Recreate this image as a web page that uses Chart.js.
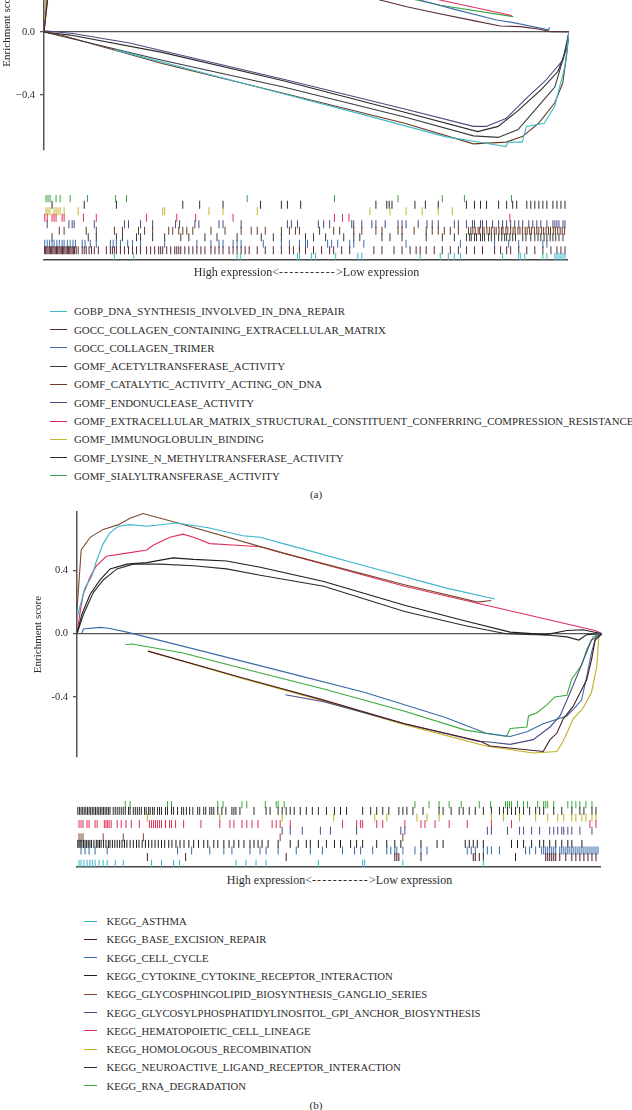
<!DOCTYPE html>
<html>
<head>
<meta charset="utf-8">
<script src="https://cdn.jsdelivr.net/npm/chart.js@4.4.1/dist/chart.umd.min.js"></script>
<style>
  html, body { margin: 0; padding: 0; background: #fff; }
  body { width: 632px; height: 1110px; overflow: hidden; position: relative;
         font-family: "Liberation Serif", "DejaVu Serif", serif; color: #2b2b2b; }
  canvas { position: absolute; }
  .row { position: absolute; height: 14px; line-height: 14px; white-space: nowrap; }
  .swatch { position: absolute; height: 1.6px; }
  .caption { position: absolute; white-space: nowrap; transform: translate(-50%, -50%); }
  .dash { letter-spacing: 1.2px; }
</style>
</head>
<body>
<canvas id="curvesA" width="572" height="250" style="left:0;top:-97px"></canvas>
<canvas id="rugA" width="572" height="75" style="left:0;top:190px"></canvas>
<div class="caption" style="left:306.5px;top:272px;font-size:12px">High expression&lt;<span class="dash">-----------</span>&gt;Low expression</div>
<div id="legendA"></div>
<div class="caption" style="left:316px;top:494px;font-size:11px">(a)</div>

<canvas id="curvesB" width="605" height="251" style="left:0;top:509px"></canvas>
<canvas id="rugB" width="605" height="76" style="left:0;top:796px"></canvas>
<div class="caption" style="left:339.5px;top:880px;font-size:12px">High expression&lt;<span class="dash">-----------</span>&gt;Low expression</div>
<div id="legendB"></div>
<div class="caption" style="left:316px;top:1105px;font-size:11px">(b)</div>

<script>
// y axis ticks
const yTickValues = [-0.4, 0, 0.4];
const yTickLabelsA = ["\u22120.4", "0.0", "0.4"];
const yTickLabelsB = ["-0.4", "0.0", "0.4"];

// ---------- panel (a): GO gene sets ----------
const goNames = [
  "GOBP_DNA_SYNTHESIS_INVOLVED_IN_DNA_REPAIR",
  "GOCC_COLLAGEN_CONTAINING_EXTRACELLULAR_MATRIX",
  "GOCC_COLLAGEN_TRIMER",
  "GOMF_ACETYLTRANSFERASE_ACTIVITY",
  "GOMF_CATALYTIC_ACTIVITY_ACTING_ON_DNA",
  "GOMF_ENDONUCLEASE_ACTIVITY",
  "GOMF_EXTRACELLULAR_MATRIX_STRUCTURAL_CONSTITUENT_CONFERRING_COMPRESSION_RESISTANCE",
  "GOMF_IMMUNOGLOBULIN_BINDING",
  "GOMF_LYSINE_N_METHYLTRANSFERASE_ACTIVITY",
  "GOMF_SIALYLTRANSFERASE_ACTIVITY"
];
const goColors = ["#3fb8c8", "#5a2a32", "#3f6fa8", "#3a3a3a", "#6b3a22",
                  "#4a4a80", "#e0305a", "#c0b830", "#2a2a2a", "#3aa040"];

// running enrichment score, [position % of ranked list, ES]
const goCurves = [
  [[13.6,-0.114],[37.9,-0.326],[61,-0.527],[76.4,-0.665],[84.2,-0.707],[88,-0.728],[88.4,-0.70],[91.1,-0.70],[91.9,-0.60],[95.3,-0.58],[97.3,-0.47],[99.2,-0.22],[100,0]],
  [[0,0],[1,0.3],[3,0.5],[8,0.62],[15,0.68],[25,0.62],[40,0.48],[55,0.32],[64,0.203],[69.1,0.16],[74.2,0.123],[81.8,0.072],[86.9,0.038],[90.7,0.034],[94.5,0.017],[96.4,0.002],[100,0]],
  [[0,0],[1,0.35],[4,0.55],[10,0.62],[20,0.6],[35,0.48],[50,0.38],[60,0.3],[71.6,0.203],[78.6,0.14],[86.2,0.076],[89.4,0.059],[96.1,0.013],[96.3,0.03]],
  [[0,0],[22.5,-0.18],[45.6,-0.35],[68.7,-0.54],[81.8,-0.66],[86.5,-0.67],[90.3,-0.62],[94.2,-0.47],[97.3,-0.35],[99.2,-0.135],[100,0]],
  [[0,0],[3.2,-0.02],[22.5,-0.2],[45.6,-0.39],[68.7,-0.58],[81.8,-0.711],[88,-0.70],[91.1,-0.665],[94.2,-0.58],[97.3,-0.45],[98.8,-0.326],[99.6,-0.135],[100,0]],
  [[0,0.008],[5.5,-0.01],[16.3,-0.07],[22.5,-0.12],[45.6,-0.30],[68.7,-0.49],[81.8,-0.60],[84.2,-0.60],[88,-0.55],[91.9,-0.42],[95.5,-0.31],[98.8,-0.18],[100,0]],
  [[0,0],[1,0.3],[5,0.55],[15,0.66],[30,0.6],[50,0.45],[65,0.28],[75.4,0.203],[89.1,0.104]],
  [[0,0],[0.6,0.4],[2,0.62],[6,0.7],[15,0.66],[30,0.55],[45,0.42],[55,0.34]],
  [[0,0],[5,-0.02],[22.5,-0.13],[45.6,-0.31],[68.7,-0.51],[82.6,-0.633],[86.5,-0.60],[90.3,-0.50],[94.9,-0.36],[97.9,-0.25],[99.6,-0.10],[100,0]],
  [[0,0],[0.8,0.4],[3,0.6],[10,0.66],[25,0.58],[45,0.42],[60,0.29],[71,0.203],[75.4,0.17],[89.4,0.097]]
];

// hit positions in the ranked gene list (0 .. 1300)
const goRugs = [
  [175,223,480,488,630,635,665,675,725,780,790,935,985,1005,1020,1035,1140,1180,1185,1195,1240,1250,1270,1275,1280,1285,1290,1295],
  [1,4,7,10,13,16,19,22,25,28,31,34,37,40,43,46,49,52,55,58,61,64,67,70,73,76,80,85,95,100,105,112,118,125,135,155,165,170,175,180,190,200,210,220,230,240,255,265,275,285,290,295,305,315,325,330,335,340,350,360,370,380,390,400,415,425,435,445,460,470,480,490,500,510,530,550,570,590,610,620,635,650,670,690,710,720,740,760,820,840,870,890,910,925,935,950,970,990,1010,1030,1050,1070,1090,1120,1135,1150,1160,1180,1200,1220,1240,1260,1275,1285,1295],
  [2,8,14,20,25,32,38,45,50,58,65,72,78,95,102,115,130,165,172,180,190,208,220,240,300,380,415,435,445,470,480,490,545,590,610,635,650,655,705,715,730,760,770,795,900,1035,1120,1155,1180,1240,1250],
  [20,110,130,180,195,230,240,270,300,340,360,400,430,480,540,570,590,650,670,700,745,770,785,840,860,890,950,990,1020,1050,1058,1062,1070,1075,1085,1090,1095,1105,1112,1120,1130,1138,1145,1150,1158,1165,1172,1190,1198,1210,1220,1228,1235,1243,1250,1258,1265,1272,1280,1290],
  [38,50,105,130,175,195,235,250,270,310,320,335,345,355,370,415,450,490,515,530,550,590,610,625,635,685,720,735,770,790,825,840,880,890,920,950,965,980,995,1010,1030,1055,1061,1066,1072,1079,1083,1090,1094,1101,1107,1112,1119,1124,1131,1137,1141,1148,1153,1160,1166,1171,1178,1183,1189,1196,1201,1207,1212,1219,1225,1230,1237,1242,1248,1254,1259,1266,1271,1277,1283,1288,1294],
  [8,62,70,75,125,200,210,240,270,327,337,375,385,435,445,490,605,615,630,682,695,710,765,770,790,815,825,848,880,890,900,930,952,965,980,1020,1030,1050,1065,1070,1085,1090,1100,1115,1130,1140,1150,1160,1170,1180,1190,1205,1215,1225,1235,1250,1265,1270,1275,1280,1290,1295],
  [2,8,20,25,30,45,50,98,130,255,330,377,470,722,742,758,1158],
  [5,10,15,25,30,35,40,50,85,295,300,410,445,530,810,860,900,940,980,1015],
  [20,100,180,345,387,445,538,590,605,638,825,852,858,865,922,948,980,1050,1070,1085,1100,1130,1150,1165,1175,1200,1210,1220,1230,1240,1250,1265,1275,1285,1295],
  [5,10,15,30,40,65,108,178,205,505,722,880,990,1045,1162]
];

// ---------- panel (b): KEGG gene sets ----------
const keggNames = [
  "KEGG_ASTHMA",
  "KEGG_BASE_EXCISION_REPAIR",
  "KEGG_CELL_CYCLE",
  "KEGG_CYTOKINE_CYTOKINE_RECEPTOR_INTERACTION",
  "KEGG_GLYCOSPHINGOLIPID_BIOSYNTHESIS_GANGLIO_SERIES",
  "KEGG_GLYCOSYLPHOSPHATIDYLINOSITOL_GPI_ANCHOR_BIOSYNTHESIS",
  "KEGG_HEMATOPOIETIC_CELL_LINEAGE",
  "KEGG_HOMOLOGOUS_RECOMBINATION",
  "KEGG_NEUROACTIVE_LIGAND_RECEPTOR_INTERACTION",
  "KEGG_RNA_DEGRADATION"
];
const keggColors = ["#3ab4cc", "#4a1a22", "#3a6aaa", "#1e1e1e", "#7a4a30",
                    "#4a4a8a", "#e0305a", "#c0b020", "#2a2a2a", "#3aaa3a"];

const keggCurves = [
  [[0,0.1],[1.5,0.29],[2.8,0.36],[3.7,0.46],[5.0,0.57],[6.3,0.64],[7.9,0.68],[10,0.69],[13.3,0.68],[19.0,0.70],[25,0.67],[31.6,0.62],[34.9,0.61],[39.3,0.57],[54.7,0.43],[70.2,0.29],[79.6,0.22]],
  [[13.5,-0.11],[31.6,-0.28],[47,-0.42],[62.4,-0.57],[76.8,-0.68],[78.7,-0.71],[88.8,-0.745],[90.1,-0.67],[91.4,-0.63],[92.6,-0.54],[94.5,-0.46],[95.8,-0.375],[97.1,-0.29],[98,-0.165],[98.7,-0.04],[100,0]],
  [[0.9,0],[1.2,0.03],[4.4,0.04],[6,0.035],[9.5,0.01],[11.4,-0.006],[23.9,-0.11],[39.3,-0.24],[54.7,-0.37],[70.2,-0.53],[77.9,-0.63],[82.5,-0.65],[85.7,-0.62],[88.8,-0.57],[93.3,-0.52],[94.5,-0.48],[96.1,-0.42],[97.1,-0.27],[98,-0.12],[99,0],[100,0]],
  [[0,0],[0.9,0.12],[2.5,0.25],[4.4,0.34],[6.3,0.41],[9.5,0.44],[13.3,0.45],[18.3,0.48],[22.2,0.47],[28.5,0.46],[34.9,0.42],[47,0.33],[62.4,0.18],[74,0.08],[82.5,0.01],[89.4,-0.006],[93.3,0.02],[96.4,0.025],[100,0]],
  [[0,0.15],[0.8,0.53],[2.5,0.61],[5.0,0.66],[7.9,0.69],[10.1,0.73],[12.6,0.76],[19.2,0.70],[39.3,0.51],[62.4,0.31],[76.3,0.20],[78.9,0.21]],
  [[39.7,-0.386],[47,-0.43],[62.4,-0.57],[76.3,-0.68],[78.5,-0.685],[82.5,-0.70],[86.9,-0.67],[90.1,-0.59],[92,-0.52],[93.9,-0.375],[95.2,-0.27],[96.8,-0.14],[98,-0.04],[100,0]],
  [[0,0],[0.6,0.14],[1.2,0.25],[2.5,0.36],[3.7,0.43],[5.6,0.49],[9.5,0.51],[13.3,0.53],[14.5,0.56],[17.7,0.61],[20.2,0.63],[22.2,0.61],[25.3,0.57],[30.4,0.56],[34.9,0.55],[39.3,0.51],[62.4,0.30],[77.9,0.18],[98.7,0.02],[100,0]],
  [[13.5,-0.11],[31.6,-0.285],[47,-0.425],[62.4,-0.575],[77.9,-0.71],[86.9,-0.755],[91.4,-0.745],[92.6,-0.68],[94.5,-0.54],[96.4,-0.47],[98,-0.37],[99,-0.21],[99.4,-0.02],[100,0]],
  [[0,0],[1.2,0.12],[3.1,0.26],[5,0.34],[7.6,0.41],[10.7,0.44],[15.8,0.44],[22.2,0.43],[28.5,0.41],[34.9,0.37],[47,0.30],[62.4,0.14],[74,0.05],[81.7,0],[90,-0.01],[93.3,-0.02],[95.6,-0.04],[97.1,-0.006],[100,0]],
  [[9.2,-0.07],[10.5,-0.065],[20,-0.12],[31.6,-0.22],[47,-0.35],[62.4,-0.49],[74,-0.61],[81.8,-0.65],[82.5,-0.60],[85.7,-0.59],[86,-0.52],[87.6,-0.50],[89.5,-0.45],[91,-0.40],[93.3,-0.39],[94.2,-0.29],[96.1,-0.20],[97.1,-0.10],[98.3,-0.02],[100,0]]
];

const keggRugs = [
  [5,10,17,25,32,38,45,55,65,75,95,115,185,210,240,255,395,420,445,470,600,710,715,810,1010],
  [175,270,520,790,795,800,855,985,990,1000,1010,1090,1165,1170,1175,1180,1185,1190,1200,1215,1230,1240,1250,1260,1270,1280,1290],
  [10,20,30,45,75,250,285,330,365,385,430,455,470,500,545,580,610,660,690,705,735,770,780,790,795,810,840,855,870,970,980,990,1010,1020,1030,1050,1115,1125,1140,1155,1160,1165,1170,1175,1180,1185,1190,1200,1205,1210,1215,1220,1225,1230,1235,1240,1245,1250,1255,1260,1265,1270,1275,1280,1285,1290,1295],
  [2,5,8,12,16,20,24,28,32,36,42,48,52,56,60,66,72,78,82,88,94,100,106,112,118,124,132,140,148,154,162,170,178,186,194,202,210,218,228,236,246,256,266,278,290,302,315,325,340,350,365,378,390,402,415,430,440,450,460,475,500,530,550,570,580,600,620,640,655,680,695,710,745,770,790,805,855,895,910,965,975,985,995,1010,1080,1095,1110,1130,1150,1160,1175,1190,1205,1220,1230,1255],
  [5,10,15,65,115,165,505,810],
  [510,530,560,605,630,695,805,815,1020,1030,1070,1100,1110,1130,1150,1175,1185,1195,1205,1210,1220,1230,1250,1280],
  [5,10,15,25,30,45,50,68,72,76,80,85,100,110,122,135,155,180,185,190,195,200,205,210,220,230,235,245,265,308,355,380,390,410,422,435,450,485,495,505,530,660,695,705,710,745,760,815,855,865,890,925,970,1030,1080,1275,1290],
  [175,355,510,638,740,770,845,870,900,1030,1060,1100,1140,1170,1195,1210,1230,1240,1255,1265,1280,1290],
  [2,6,10,14,18,22,26,30,34,38,42,46,50,54,58,62,66,70,74,78,82,90,95,100,105,110,115,120,128,132,140,145,150,155,160,168,172,178,182,188,192,200,205,210,220,225,235,240,250,260,265,272,280,288,300,305,315,320,330,335,340,350,360,370,385,390,395,405,440,470,480,500,510,520,530,540,555,570,585,600,620,640,655,670,710,730,745,760,775,800,810,820,835,860,900,910,930,950,960,975,990,1010,1030,1050,1060,1070,1080,1090,1100,1110,1125,1140,1150,1160,1185,1205,1230,1250,1260,1280,1290],
  [120,132,225,235,350,363,410,422,468,495,500,515,840,875,900,925,955,1000,1028,1065,1070,1075,1080,1095,1110,1120,1145,1160,1165,1170,1185,1220,1230,1240,1250,1265,1280]
];

const serif = "Liberation Serif";

function drawCurves(id, colors, curves, tickLabels, yMin, yMax, axisWidth, titlePad) {
    const ctx = document.getElementById(id).getContext("2d");
    new Chart(ctx, {
        type: "line",
        data: {
            datasets: curves.map((pts, i) => ({
                data: pts.map((p) => ({ x: p[0], y: p[1] })),
                borderColor: colors[i],
                borderWidth: 1.1,
                pointRadius: 0,
                tension: 0,
                fill: false,
            })),
        },
        options: {
            responsive: false,
            animation: false,
            layout: { padding: { top: 3, right: 3, bottom: 3, left: 0 } },
            plugins: { legend: { display: false }, tooltip: { enabled: false } },
            scales: {
                x: { type: "linear", min: 0, max: 100, display: false },
                y: {
                    min: yMin,
                    max: yMax,
                    afterBuildTicks: (s) => { s.ticks = yTickValues.map((v) => ({ value: v })); },
                    afterFit: (s) => { s.width = axisWidth; s.paddingTop = 0; s.paddingBottom = 0; },
                    ticks: {
                        padding: 5,
                        color: "#2b2b2b",
                        font: { family: serif, size: 10.5 },
                        callback: (v) => tickLabels[yTickValues.indexOf(v)],
                    },
                    grid: {
                        drawOnChartArea: true,
                        lineWidth: 1.3,
                        tickLength: 4,
                        tickColor: "#555",
                        color: (c) => (c.tick && c.tick.value === 0 ? "#555" : "rgba(0,0,0,0)"),
                    },
                    border: { display: true, color: "#555", width: 1.5 },
                    title: {
                        display: true,
                        text: "Enrichment score",
                        color: "#2b2b2b",
                        font: { family: serif, size: 11 },
                        padding: { top: titlePad, bottom: 0 },
                    },
                },
            },
        },
    });
}

function drawRug(id, colors, rugs, padLeft) {
    const ctx = document.getElementById(id).getContext("2d");
    new Chart(ctx, {
        type: "scatter",
        data: {
            datasets: rugs.map((r, i) => ({
                data: r.map((v) => ({ x: v, y: i })),
                pointStyle: "line",
                rotation: 90,
                radius: 4,
                borderWidth: 1,
                borderColor: colors[i],
                backgroundColor: colors[i],
            })),
        },
        options: {
            responsive: false,
            animation: false,
            layout: { padding: { top: 3.5, right: 3, bottom: 3.5, left: padLeft } },
            plugins: { legend: { display: false }, tooltip: { enabled: false } },
            scales: {
                x: {
                    type: "linear", min: 0, max: 1300,
                    ticks: { display: false },
                    grid: { display: false, drawTicks: false },
                    border: { display: true, color: "#444", width: 1.5 },
                    afterFit: (s) => { s.height = 0; s.paddingLeft = 0; s.paddingRight = 0; },
                },
                y: { type: "linear", min: -0.5, max: 9.5, display: false },
            },
        },
    });
}

function buildLegend(id, names, colors, top, step, lineLeft, lineWidth, textLeft, fontSize) {
    const box = document.getElementById(id);
    names.forEach((name, i) => {
        const y = top + i * step;
        const sw = document.createElement("div");
        sw.className = "swatch";
        sw.style.left = lineLeft + "px";
        sw.style.width = lineWidth + "px";
        sw.style.top = (Math.round(y) - 0.5) + "px";
        sw.style.background = colors[i];
        box.appendChild(sw);
        const row = document.createElement("div");
        row.className = "row";
        row.style.left = textLeft + "px";
        row.style.top = (y - 6.5) + "px";
        row.style.fontSize = fontSize + "px";
        row.textContent = name;
        box.appendChild(row);
    });
}

drawCurves("curvesA", goColors, goCurves, yTickLabelsA, -0.75, 0.8, 44, 0.5);
drawRug("rugA", goColors, goRugs, 44);
buildLegend("legendA", goNames, goColors, 310.7, 18.3, 50, 17, 74, 10.85);

drawCurves("curvesB", keggColors, keggCurves, yTickLabelsB, -0.78, 0.77, 77, 32);
drawRug("rugB", keggColors, keggRugs, 77);
buildLegend("legendB", keggNames, keggColors, 920.7, 18.26, 84, 13, 106.5, 10.7);
</script>
</body>
</html>
